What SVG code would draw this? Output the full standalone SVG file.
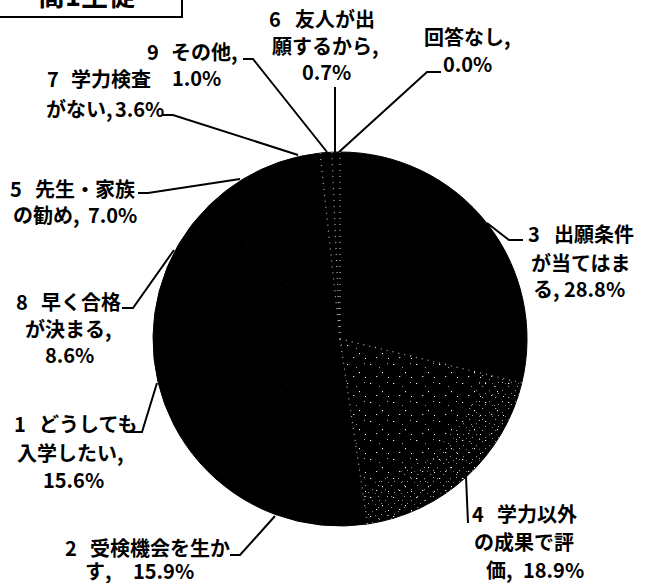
<svg xmlns="http://www.w3.org/2000/svg" width="652" height="583" viewBox="0 0 652 583">
<style>
.lbl{font-family:'Noto Sans CJK JP','Noto Sans',sans-serif;font-weight:700;font-size:20px;fill:#000}
.ttl{font-family:'Noto Sans CJK JP','Noto Sans',sans-serif;font-weight:700;font-size:27px;fill:#000}
.ld{fill:none;stroke:#000;stroke-width:2}
.sl{fill:#000;stroke:#000;stroke-width:1}
.sep{fill:none;stroke:#fff;stroke-width:1.2;stroke-dasharray:1 5;opacity:0.7}
</style>
<defs>
<pattern id="speck" width="23" height="19" patternUnits="userSpaceOnUse">
<rect width="23" height="19" fill="#000"/>
<rect x="2" y="3" width="1.2" height="1" fill="#fff"/>
<rect x="14" y="11" width="1" height="1.2" fill="#fff"/>
<rect x="19" y="2" width="1" height="1" fill="#aaa"/>
<rect x="8" y="15" width="1.3" height="1" fill="#ddd"/>
<rect x="11" y="6" width="1" height="1" fill="#999"/>
<rect x="20" y="16" width="1" height="1" fill="#fff"/>
</pattern>
<pattern id="speck2" width="13" height="11" patternUnits="userSpaceOnUse">
<rect x="1" y="1" width="1.2" height="1" fill="#fff"/>
<rect x="8" y="5" width="1" height="1.2" fill="#ddd"/>
<rect x="4" y="8" width="1" height="1" fill="#fff"/>
<rect x="11" y="9" width="1" height="1" fill="#bbb"/>
</pattern>
</defs>

<g id="title">
<path class="ld" d="M0,17 H182 V-2" stroke-width="2.5"/>
<text class="ttl" x="38" y="6">高1生徒</text>
</g>

<g id="slice-3"><path class="sl" d="M340,339 L340,152 A187,187 0 0 1 521.8,382.9 Z"/>
<text class="lbl" x="528" y="242">3 <tspan x="554">出願条件</tspan></text>
<text class="lbl" x="531" y="271">が当てはま</text>
<text class="lbl" x="533" y="297">る, <tspan x="564">28.8%</tspan></text>
</g>
<g id="slice-4"><path fill="url(#speck)" stroke="#000" stroke-width="1" d="M340,339 L521.8,382.9 A187,187 0 0 1 367.5,524 Z"/>
<path fill="url(#speck2)" opacity="0.6" d="M521.8,382.9 A187,187 0 0 1 367.5,524 L361.3,483.4 A145,145 0 0 0 480.9,374 Z"/>
<text class="lbl" x="472" y="522">4 <tspan x="497">学力以外</tspan></text>
<text class="lbl" x="474" y="550">の成果で評</text>
<text class="lbl" x="486" y="578">価, <tspan x="523">18.9%</tspan></text>
</g>
<g id="slice-2"><path class="sl" d="M340,339 L367.5,524 A187,187 0 0 1 199.45,462.35 Z"/>
<text class="lbl" x="65" y="556">2 <tspan x="90">受検機会を生か</tspan></text>
<text class="lbl" x="85" y="579">す, <tspan x="133">15.9%</tspan></text>
</g>
<g id="slice-1"><path class="sl" d="M340,339 L199.45,462.35 A187,187 0 0 1 159.23,291.13 Z"/>
<text class="lbl" x="14" y="432">1 <tspan x="39">どうしても</tspan></text>
<text class="lbl" x="17" y="461">入学したい,</text>
<text class="lbl" x="43" y="488">15.6%</text>
</g>
<g id="slice-8"><path class="sl" d="M340,339 L159.23,291.13 A187,187 0 0 1 209.53,205.03 Z"/>
<text class="lbl" x="16" y="310">8 <tspan x="41">早く合格</tspan></text>
<text class="lbl" x="25" y="337">が決まる,</text>
<text class="lbl" x="45" y="363">8.6%</text>
</g>
<g id="slice-5"><path class="sl" d="M340,339 L209.53,205.03 A187,187 0 0 1 278.93,162.25 Z"/>
<text class="lbl" x="10" y="197">5 <tspan x="35">先生・家族</tspan></text>
<text class="lbl" x="13" y="223">の勧め, <tspan x="88">7.0%</tspan></text>
</g>
<g id="slice-7"><path class="sl" d="M340,339 L278.93,162.25 A187,187 0 0 1 320.1,153.06 Z"/>
<text class="lbl" x="47" y="87">7 <tspan x="71">学力検査</tspan></text>
<text class="lbl" x="46" y="117">がない, <tspan x="115">3.6%</tspan></text>
</g>
<g id="slice-9"><path class="sl" d="M340,339 L320.1,153.06 A187,187 0 0 1 331.77,152.19 Z"/>
<text class="lbl" x="147" y="60">9 <tspan x="171">その他,</tspan></text>
<text class="lbl" x="172" y="86">1.0%</text>
</g>
<g id="slice-6"><path class="sl" d="M340,339 L331.77,152.19 A187,187 0 0 1 340,152 Z"/>
<text class="lbl" x="269" y="27">6 <tspan x="295">友人が出</tspan></text>
<text class="lbl" x="272" y="54">願するから,</text>
<text class="lbl" x="302" y="80">0.7%</text>
</g>
<g id="no-answer">
<text class="lbl" x="424" y="45">回答なし,</text>
<text class="lbl" x="443" y="72">0.0%</text>
</g>

<g id="separators">
<path class="sep" d="M340,339 L521.8,382.9 M340,339 L367.5,524 M340,339 L320.1,153.06 M340,339 L331.77,152.19 M340,339 L340,152"/>
</g>

<g id="connectors">
<path class="ld" d="M243,59 L253,59 L327,152"/>
<path class="ld" d="M335,87 L335,152"/>
<path class="ld" d="M441,72 L427,72 L339,152"/>
<path class="ld" d="M162,115 L173,115 L298,155"/>
<path class="ld" d="M138,193 L148,193 L240,179"/>
<path class="ld" d="M122,308 L133,308 L174,250"/>
<path class="ld" d="M128,432 L142,432 L157,383"/>
<path class="ld" d="M230,555 L240,555 L275,516"/>
<path class="ld" d="M466,477 L468,523"/>
<path class="ld" d="M487,223 L509,240 L523,240"/>
</g>
</svg>
